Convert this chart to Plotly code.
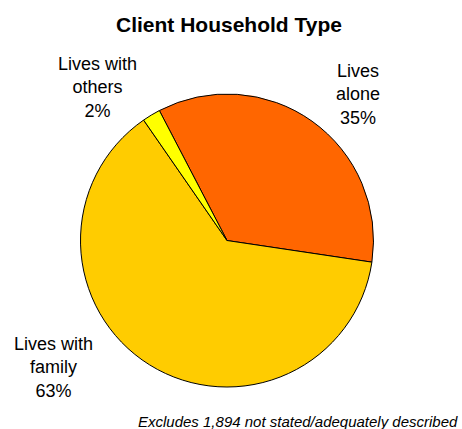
import plotly.graph_objects as go

# Household type shares (percent of clients)
categories = ["Lives alone", "Lives with family", "Lives with others"]
label_lines = ["Lives<br>alone", "Lives with<br>family", "Lives with<br>others"]
shares = [35, 63, 2]
slice_colors = ["#FF6600", "#FFCC00", "#FFFF00"]

W, H = 462, 429
cx, cy, r = 227, 240.5, 146.5  # pie centre / radius in pixels

fig = go.Figure(
    go.Pie(
        labels=categories,
        values=shares,
        sort=False,
        direction="clockwise",
        rotation=-27.5,
        marker=dict(colors=slice_colors, line=dict(color="#000000", width=1)),
        textinfo="none",
        hoverinfo="label+percent",
        domain=dict(x=[(cx - r) / W, (cx + r) / W],
                    y=[(H - cy - r) / H, (H - cy + r) / H]),
        showlegend=False,
    )
)

# Outside labels: category name plus share
label_pos = {
    "Lives alone": (358, 94),
    "Lives with family": (53, 367),
    "Lives with others": (97, 87),
}
annotations = []
for cat, txt, val in zip(categories, label_lines, shares):
    px, py = label_pos[cat]
    annotations.append(dict(
        x=px / W, y=1 - py / H, xref="paper", yref="paper",
        text=f"{txt}<br>{val}%", showarrow=False,
        xanchor="center", yanchor="middle", align="center",
        font=dict(family="Arial, Liberation Sans, sans-serif", size=18, color="#000000"),
    ))

annotations.append(dict(
    x=460 / W, y=1 - 421 / H, xref="paper", yref="paper",
    text="<i>Excludes 1,894 not stated/adequately described</i>",
    showarrow=False, xanchor="right", yanchor="middle",
    font=dict(family="Arial, Liberation Sans, sans-serif", size=15, color="#000000"),
))

fig.update_layout(
    width=W, height=H,
    margin=dict(l=0, r=0, t=0, b=0),
    paper_bgcolor="#FFFFFF", plot_bgcolor="#FFFFFF",
    title=dict(
        text="<b>Client Household Type</b>",
        x=229 / W, y=1 - 25 / H, xanchor="center", yanchor="middle",
        font=dict(family="Arial, Liberation Sans, sans-serif", size=21, color="#000000"),
    ),
    annotations=annotations,
)

fig.write_html("out.html")
